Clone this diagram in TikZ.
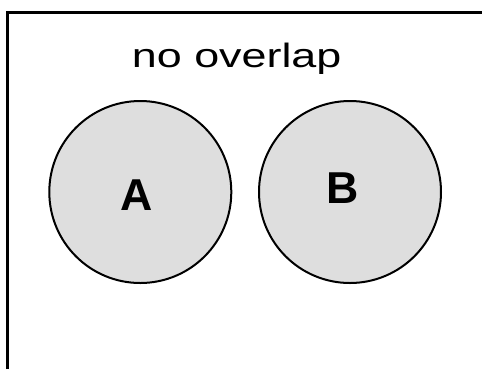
\documentclass[tikz,border=0pt]{standalone}
\usepackage{fontspec}
\setmainfont{Liberation Sans}
\tikzset{every picture/.style={line width=0.75pt}}
\tikzset{
	setcircle/.style={circle, draw, line width=1.5, fill={rgb, 255:red, 222; green, 222; blue, 222 }, minimum size=136.5pt, inner sep=0pt},
	setlabel/.style={anchor=base, inner sep=0.75pt, font=\fontsize{33.5}{36}\selectfont\bfseries}
}
\begin{document}
\begin{tikzpicture}[x=0.75pt,y=0.75pt,yscale=-1,xscale=1]
	\useasboundingbox (0,0) rectangle (482,369);

	\draw [line width=2.25] (7.5,369) -- (7.5,12.5) -- (482,12.5);

	\node [setcircle] (setA) at (140.3,192) {};
	\node [setcircle] (setB) at (350,192) {};

	\draw (236.7,67.3) node [anchor=base, inner sep=0.75pt, xscale=1.33, font=\fontsize{25.3}{28}\selectfont] (title) {no overlap};
	\draw (137,210.7) node [setlabel] (labA) {A};
	\draw (342.5,203.3) node [setlabel] (labB) {B};
\end{tikzpicture}
\end{document}
